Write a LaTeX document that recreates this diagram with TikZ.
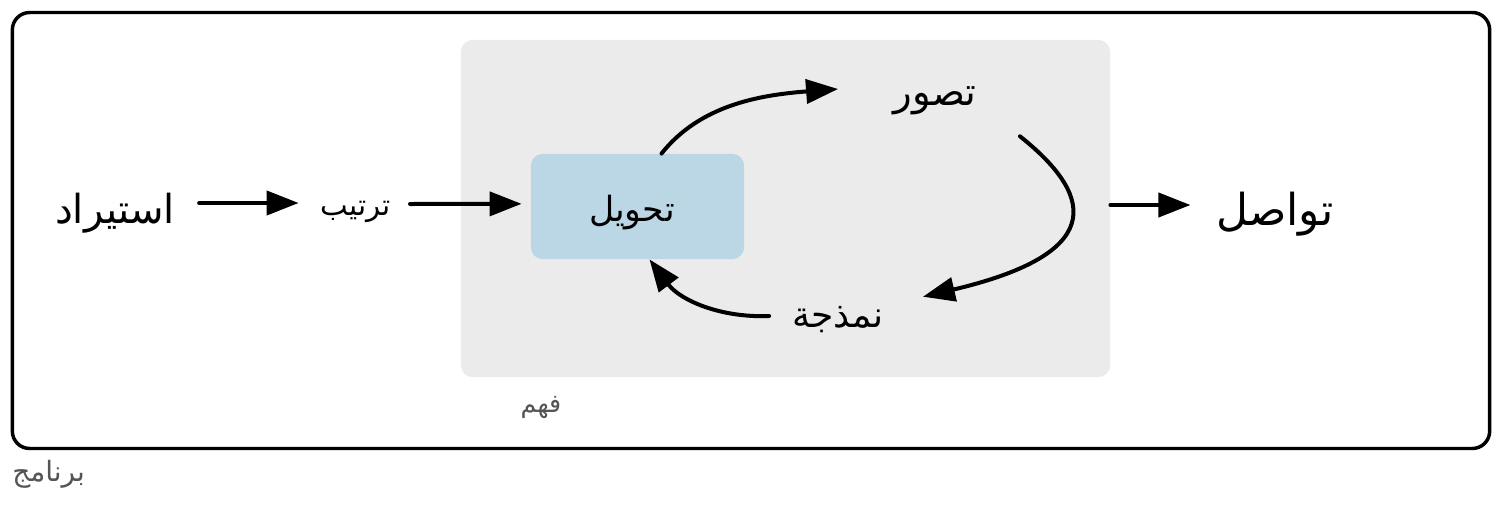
\documentclass[tikz,border=0pt]{standalone}
\usepackage{fontspec}
\newfontfamily\arabicfont[Script=Arabic]{DejaVu Sans}
\TeXXeTstate=1
\usetikzlibrary{arrows.meta}
\definecolor{boxgray}{HTML}{EBEBEB}
\definecolor{boxblue}{HTML}{BBD7E6}
\definecolor{labelgray}{HTML}{555555}
\newcommand{\ar}[1]{\beginR#1\endR}

\begin{document}
\begin{tikzpicture}[x=0.75pt,y=-0.75pt,
  word/.style={font=\arabicfont\fontsize{27}{31}\selectfont, inner sep=0pt},
  bigword/.style={font=\arabicfont\fontsize{31}{35}\selectfont, inner sep=0pt},
  small/.style={font=\arabicfont\fontsize{19}{22}\selectfont, text=labelgray, inner sep=0pt},
  flow/.style={line width=3pt, line cap=round, -{Triangle[length=24pt,width=18pt]}}]
\useasboundingbox (0,0) rectangle (1504,508);

\node [draw, line width=2.6pt, rounded corners=13pt, minimum width=1108pt, minimum height=327pt] (program) at (751,230.5) {};
\node [small, font=\arabicfont\fontsize{21}{24}\selectfont, anchor=north west] (programlbl) at (12,460) {\ar{برنامج}};

\node [fill=boxgray, rounded corners=9pt, minimum width=487pt, minimum height=253pt] (understand) at (785.5,208.5) {};
\node [small] (understandlbl) at (541,408) {\ar{فهم}};

\node [bigword, font=\arabicfont\fontsize{30}{34}\selectfont] (import) at (115,213) {\ar{استيراد}};
\node [word, font=\arabicfont\fontsize{22}{26}\selectfont] (tidy) at (356,212) {\ar{ترتيب}};
\node [fill=boxblue, rounded corners=9pt, minimum width=160pt, minimum height=79pt] (transform) at (637.5,206.5) {};
\node [word, font=\arabicfont\fontsize{26}{30}\selectfont] (transformlbl) at (632,213) {\ar{تحويل}};
\node [word, font=\arabicfont\fontsize{29}{33}\selectfont, minimum width=145pt, minimum height=52.5pt] (visualise) at (935,101) {\ar{تصور}};
\node [word, minimum width=127pt, minimum height=34.5pt] (model) at (838,320) {\ar{نمذجة}};
\node [bigword, font=\arabicfont\fontsize{33}{37}\selectfont] (communicate) at (1275,214) {\ar{تواصل}};

\draw [flow] ([xshift=18pt,yshift=7.5pt]import.east) -- ([xshift=-16.5pt,yshift=6.75pt]tidy.west);
\draw [flow] ([xshift=14pt,yshift=6pt]tidy.east) -- ([xshift=-6.75pt,yshift=2pt]transform.west);
\draw [flow] ([xshift=18pt]transform.north) .. controls (700,105) and (760,95) .. ([yshift=9pt]visualise.west);
\draw [flow] ([xshift=-9pt]visualise.south east) .. controls (1100,200) and (1100,255) .. (model.north east);
\draw [flow] ([xshift=12pt,yshift=3pt]model.west) .. controls (720,318) and (680,300) .. ([xshift=9pt]transform.south);
\draw [flow] ([yshift=6.75pt]understand.east |- communicate) -- ([xshift=-19pt,yshift=6.75pt]communicate.west);

\end{tikzpicture}
\end{document}
